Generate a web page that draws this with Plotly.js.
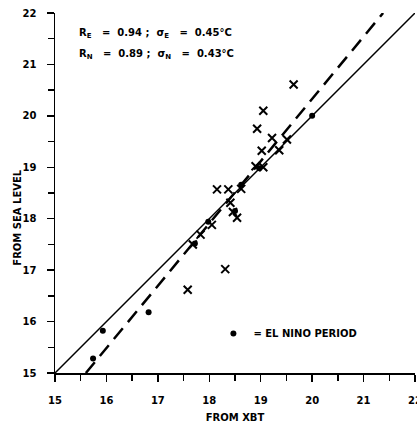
<!DOCTYPE html>
<html>
<head>
<meta charset="utf-8">
<script src="https://cdn.plot.ly/plotly-3.0.1.min.js"></script>
<style>html,body{margin:0;padding:0;background:#fff;}#chart{width:417px;height:423px;}</style>
</head>
<body>
<div id="chart"></div>
<script>
// Non-El Nino observations (crosses)
const xbtOther = [19.64, 19.05, 18.93, 19.22, 19.51, 19.02, 19.36, 18.90, 19.05, 18.62, 18.15, 18.37, 18.41, 18.46, 18.54, 18.05, 17.83, 17.68, 18.31, 17.58];
const seaOther = [20.61, 20.10, 19.75, 19.57, 19.54, 19.32, 19.33, 19.02, 19.00, 18.58, 18.57, 18.57, 18.31, 18.13, 18.02, 17.88, 17.69, 17.50, 17.02, 16.62];
// El Nino period observations (dots)
const xbtNino = [20.00, 18.97, 18.62, 18.50, 17.98, 17.72, 16.82, 15.93, 15.74];
const seaNino = [20.00, 18.98, 18.66, 18.15, 17.94, 17.52, 16.18, 15.82, 15.28];
// Reference lines
const solidX = [15, 22];
const solidY = [15, 22];
const dashX = [15.6, 21.38];
const dashY = [15, 22];
const ticks = [15, 16, 17, 18, 19, 20, 21, 22];

const FONT = 'DejaVu Sans, sans-serif';

const traces = [
  {x: solidX, y: solidY, mode: 'lines', line: {color: '#000', width: 1.5}, showlegend: false, hoverinfo: 'skip'},
  {x: dashX, y: dashY, mode: 'lines', line: {color: '#000', width: 2.5, dash: '14px,8px'}, showlegend: false, hoverinfo: 'skip'},
  {x: xbtOther, y: seaOther, mode: 'markers', showlegend: false,
   marker: {symbol: 'x-thin', size: 8, color: '#000', line: {color: '#000', width: 2}}},
  {x: xbtNino, y: seaNino, mode: 'markers', name: '= EL NINO PERIOD', showlegend: true,
   marker: {symbol: 'circle', size: 6, color: '#000'}}
];

const axisCommon = {
  range: [15, 22], tickvals: ticks, ticks: 'outside', ticklen: 7, tickwidth: 1.5, tickcolor: '#000',
  showline: true, linecolor: '#000', linewidth: 1.5, showgrid: false, zeroline: false,
  ticklabeloverflow: 'allow',
  tickfont: {family: FONT, size: 10, color: '#000', weight: 'bold'},
  minor: {dtick: 0.5, ticks: 'outside', ticklen: 6, tickwidth: 1.5, tickcolor: '#000', showgrid: false}
};

const layout = {
  width: 417, height: 423,
  margin: {l: 55, r: 2, t: 13, b: 50},
  paper_bgcolor: '#fff', plot_bgcolor: '#fff',
  xaxis: Object.assign({}, axisCommon, {
    ticklabelstandoff: 10,
    title: {text: 'FROM XBT', font: {family: FONT, size: 10, color: '#000', weight: 'bold'}, standoff: 9}
  }),
  yaxis: Object.assign({}, axisCommon, {ticklabelstandoff: 8}),
  showlegend: true,
  legend: {x: 0.44, y: 0.11, xanchor: 'left', yanchor: 'middle', bgcolor: 'rgba(0,0,0,0)',
           font: {family: FONT, size: 10, color: '#000', weight: 'bold'}},
  annotations: [
    {text: 'FROM SEA LEVEL', xref: 'paper', yref: 'paper', x: -0.125, y: 0.43, textangle: -90,
     showarrow: false, font: {family: FONT, size: 10, color: '#000', weight: 'bold'}},
    {text: 'R<sub>E</sub>   =  0.94 ;  σ<sub>E</sub>   =  0.45°C', xref: 'paper', yref: 'paper', x: 0.061, y: 0.944,
     xanchor: 'left', yanchor: 'middle', showarrow: false, font: {family: FONT, size: 10, color: '#000', weight: 'bold'}},
    {text: 'R<sub>N</sub>   =  0.89 ;  σ<sub>N</sub>   =  0.43°C', xref: 'paper', yref: 'paper', x: 0.061, y: 0.886,
     xanchor: 'left', yanchor: 'middle', showarrow: false, font: {family: FONT, size: 10, color: '#000', weight: 'bold'}}
  ]
};

Plotly.newPlot('chart', traces, layout, {displayModeBar: false, staticPlot: true});
</script>
</body>
</html>
